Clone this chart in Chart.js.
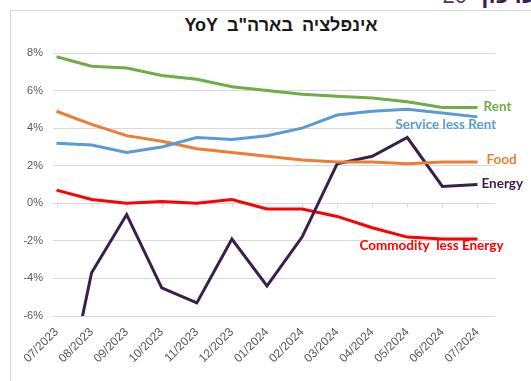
<!DOCTYPE html>
<html>
<head>
<meta charset="utf-8">
<script src="https://cdn.jsdelivr.net/npm/chart.js@4/dist/chart.umd.min.js"></script>
<style>
    body { margin: 0; background: #fff; }
    #wrap { position: relative; width: 531px; height: 381px; overflow: hidden; }
    #frame { position: absolute; left: 10px; top: 10px; width: 600px; height: 500px; border: 1px solid #d9d9d9; }
    #title { position: absolute; left: 0; top: 15px; width: 562px; text-align: center; word-spacing: 4px;
             font: bold 18px "Liberation Sans", "DejaVu Sans", sans-serif; color: #1a1a1a; }
    #corner { position: absolute; right: -6px; top: -19px; white-space: nowrap;
              font: 22px "Liberation Sans", "DejaVu Sans", sans-serif; color: #4b3a5c; }
    #corner b { color: #3c1f4e; font-size: 24px; margin-left: 8px; }
    canvas { position: absolute; left: 0; top: 0; }
</style>
</head>
<body>
<div id="wrap">
    <div id="frame"></div>
    <div id="corner" dir="rtl"><b>עדכון</b> 20</div>
    <div id="title" dir="rtl">אינפלציה בארה"ב YoY</div>
    <canvas id="chart" width="531" height="381"></canvas>
</div>
<script>
// Monthly categories on the x axis
const months = ['07/2023', '08/2023', '09/2023', '10/2023', '11/2023', '12/2023',
                '01/2024', '02/2024', '03/2024', '04/2024', '05/2024', '06/2024', '07/2024'];

// YoY change, % per month
const rent           = [7.8, 7.3, 7.2, 6.8, 6.6, 6.2, 6.0, 5.8, 5.7, 5.6, 5.4, 5.1, 5.1];
const serviceLessRent = [3.2, 3.1, 2.7, 3.0, 3.5, 3.4, 3.6, 4.0, 4.7, 4.9, 5.0, 4.8, 4.6];
const food           = [4.9, 4.2, 3.6, 3.3, 2.9, 2.7, 2.5, 2.3, 2.2, 2.2, 2.1, 2.2, 2.2];
const energy         = [-12.6, -3.7, -0.6, -4.5, -5.3, -1.9, -4.4, -1.8, 2.1, 2.5, 3.5, 0.9, 1.0];
const commodityLessEnergy = [0.7, 0.2, 0.0, 0.1, 0.0, 0.2, -0.3, -0.3, -0.7, -1.3, -1.8, -1.9, -1.9];

const yTicks = [-6, -4, -2, 0, 2, 4, 6, 8];

const toPoints = arr => arr.map((v, i) => ({ x: i, y: v }));

const series = [
    { label: 'Rent', data: rent, color: '#70ad47', dx: 6, dy: -1 },
    { label: 'Service less Rent', data: serviceLessRent, color: '#5b9bd5', dx: -82, dy: 8 },
    { label: 'Food', data: food, color: '#ed7d31', dx: 9, dy: -2 },
    { label: 'Energy', data: energy, color: '#3a1f4b', dx: 4, dy: -1 },
    { label: 'Commodity  less Energy', data: commodityLessEnergy, color: '#ff0000', dx: -118, dy: 7 }
];

// Series names written next to the last point of each line
const endLabels = {
    id: 'endLabels',
    afterDatasetsDraw(chart) {
        const ctx = chart.ctx;
        const xs = chart.scales.x, ys = chart.scales.y;
        ctx.save();
        ctx.font = 'bold 13.5px Lato, "Open Sans", sans-serif';
        ctx.textBaseline = 'middle';
        ctx.textAlign = 'left';
        series.forEach(s => {
            const last = s.data.length - 1;
            const px = xs.getPixelForValue(last);
            const py = ys.getPixelForValue(s.data[last]);
            ctx.fillStyle = s.color;
            ctx.fillText(s.label, px + s.dx, py + s.dy);
        });
        ctx.restore();
    }
};

// Small tick marks on the zero line, Excel style
const zeroTicks = {
    id: 'zeroTicks',
    beforeDatasetsDraw(chart) {
        const ctx = chart.ctx;
        const xs = chart.scales.x, ys = chart.scales.y;
        const y0 = ys.getPixelForValue(0);
        ctx.save();
        ctx.strokeStyle = '#d9d9d9';
        ctx.lineWidth = 1;
        ctx.beginPath();
        months.forEach((m, i) => {
            const px = Math.round(xs.getPixelForValue(i)) + 0.5;
            ctx.moveTo(px, y0);
            ctx.lineTo(px, y0 + 4);
        });
        ctx.stroke();
        ctx.restore();
    }
};

const tickFont = { family: '"Liberation Sans", Arial, sans-serif', size: 11 };

new Chart(document.getElementById('chart'), {
    type: 'line',
    data: {
        datasets: series.map(s => ({
            label: s.label,
            data: toPoints(s.data),
            borderColor: s.color,
            backgroundColor: s.color,
            borderWidth: 3,
            pointRadius: 0,
            tension: 0
        }))
    },
    options: {
        responsive: false,
        animation: false,
        layout: { padding: { top: 53, right: 36, bottom: 0, left: 0 } },
        plugins: { legend: { display: false }, tooltip: { enabled: false } },
        scales: {
            x: {
                type: 'linear',
                min: -0.1,
                max: 12.5,
                afterBuildTicks: scale => { scale.ticks = months.map((m, i) => ({ value: i })); },
                afterFit: scale => { scale.height = 65; },
                grid: { display: false },
                border: { display: false },
                ticks: {
                    autoSkip: false,
                    minRotation: 45,
                    maxRotation: 45,
                    padding: 1,
                    color: '#595959',
                    font: { family: tickFont.family, size: 12 },
                    callback: v => months[v]
                }
            },
            y: {
                min: -6,
                max: 8,
                afterBuildTicks: scale => { scale.ticks = yTicks.map(v => ({ value: v })); },
                afterFit: scale => { scale.width = 53; },
                grid: { color: '#d9d9d9', lineWidth: 1, drawTicks: false },
                border: { display: false },
                ticks: {
                    padding: 10,
                    color: '#595959',
                    font: tickFont,
                    callback: v => v + '%'
                }
            }
        }
    },
    plugins: [zeroTicks, endLabels]
});
</script>
</body>
</html>
